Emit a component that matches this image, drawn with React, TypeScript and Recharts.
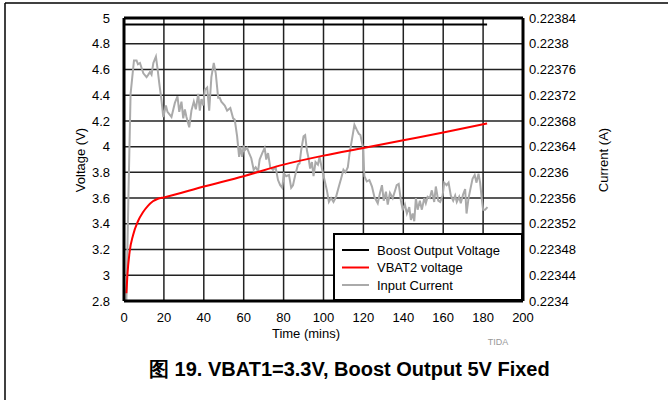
import React from 'react';
import { LineChart, Line, XAxis, YAxis, CartesianGrid, ReferenceLine } from 'recharts';

const FONT = '"Liberation Sans", Arial, Helvetica, sans-serif';

// Time axis ticks (mins)
const timeTicks = [0, 20, 40, 60, 80, 100, 120, 140, 160, 180, 200];
// Left axis ticks (V)
const voltTicks = [2.8, 3, 3.2, 3.4, 3.6, 3.8, 4, 4.2, 4.4, 4.6, 4.8, 5];
// Right axis ticks (A)
const currentTicks = [0.2234, 0.22344, 0.22348, 0.22352, 0.22356, 0.2236, 0.22364, 0.22368, 0.22372, 0.22376, 0.2238, 0.22384];

// Boost Output Voltage
const boostTimes = [0, 182];
const boostVolts = [4.95, 4.95];

// VBAT2 voltage
const vbatTimes = [1.2, 1.7, 2.8, 4.5, 7, 9.5, 12, 14.5, 17, 20, 40, 60, 80, 100, 120, 140, 160, 182];
const vbatVolts = [2.86, 3.0, 3.18, 3.31, 3.42, 3.49, 3.54, 3.575, 3.595, 3.605, 3.69, 3.77, 3.86, 3.93, 3.99, 4.05, 4.11, 4.18];

// Input Current
const currTimes = [
  1.2, 2.2, 3.3, 5, 6.3, 7, 8, 9.7, 11.3, 12.2,
  13, 13.8, 14.7, 16, 16.7, 17.7, 18.8, 19.7, 21, 21.8,
  22.8, 23.8, 25.5, 26.8, 27.7, 28.8, 29.7, 30.5, 31.3, 32.7,
  33.8, 35, 36, 37.2, 38, 38.8, 39.7, 40.5, 41.7, 42.7,
  43.8, 45, 46, 47.2, 48, 48.8, 50.5, 51.7, 53.3, 54.7,
  55.5, 56.7, 57.7, 58.3, 59.2, 60, 60.5, 61.7, 62.7, 63.8,
  65, 66, 67.2, 68, 69.3, 70.5, 71.3, 72.2, 73.3, 74.7,
  76, 77.2, 78.3, 79.3, 80.2, 81.3, 82.7, 83.8, 84.7, 86,
  87.2, 88, 88.8, 90, 90.8, 91.7, 92.5, 93.3, 94.2, 95,
  96, 97.2, 98, 99.2, 100.5, 101.7, 102.7, 103.8, 105, 106.3,
  107.7, 108.8, 110, 111, 112.2, 113, 114.2, 115.5, 116.7, 117.7,
  118.5, 119.7, 120.5, 121.7, 123, 124.3, 125.5, 127.2, 128.3, 129.3,
  130.2, 131.3, 132.2, 133.3, 134.7, 135.5, 136.7, 137.7, 138.8, 139.7,
  140.8, 141.8, 143, 143.8, 144.7, 145.5, 146.3, 147.2, 148.3, 149.3,
  150.5, 151.3, 152.2, 153.3, 154.3, 155.5, 156.3, 157.5, 158.5, 159.7,
  160.5, 161.7, 162.7, 163.8, 165, 166, 166.8, 168, 168.8, 170,
  171, 171.7, 172.7, 173.5, 174.7, 175.8, 176.7, 177.7, 178.5, 179.3,
  180, 181, 182.2,
];
const currAmps = [
  0.2234, 0.22356, 0.223722, 0.223774, 0.223774, 0.223768, 0.22377, 0.223754, 0.223748, 0.223752,
  0.223756, 0.223752, 0.22377, 0.22378, 0.223764, 0.223738, 0.223712, 0.223686, 0.223704, 0.223694,
  0.22369, 0.223686, 0.223708, 0.223718, 0.223694, 0.22371, 0.223684, 0.223698, 0.223686, 0.22367,
  0.223696, 0.22371, 0.223698, 0.223722, 0.223696, 0.223714, 0.223704, 0.223728, 0.223732, 0.223696,
  0.223748, 0.22377, 0.223754, 0.223716, 0.223716, 0.22371, 0.223704, 0.223696, 0.2237, 0.223684,
  0.223682, 0.223656, 0.223624, 0.22364, 0.223624, 0.223642, 0.223634, 0.223638, 0.22363, 0.223622,
  0.223604, 0.223608, 0.223602, 0.22362, 0.22363, 0.223638, 0.22362, 0.22363, 0.223608, 0.223604,
  0.223608, 0.223588, 0.22358, 0.223576, 0.223598, 0.223594, 0.223596, 0.223576, 0.22358, 0.223598,
  0.223612, 0.223614, 0.223634, 0.223656, 0.223658, 0.223634, 0.223622, 0.223606, 0.223616, 0.223594,
  0.223616, 0.223612, 0.223624, 0.223606, 0.223588, 0.223572, 0.223554, 0.22356, 0.223554, 0.223562,
  0.223578, 0.22359, 0.223604, 0.2236, 0.223608, 0.223628, 0.22365, 0.223674, 0.223666, 0.22366,
  0.223658, 0.22364, 0.223594, 0.223586, 0.223588, 0.223578, 0.223562, 0.223552, 0.223568, 0.22358,
  0.223556, 0.22357, 0.22355, 0.223568, 0.22356, 0.223568, 0.22358, 0.223582, 0.223556, 0.223542,
  0.22355, 0.223536, 0.223546, 0.223526, 0.223536, 0.223524, 0.22356, 0.223542, 0.223556, 0.223542,
  0.22356, 0.223552, 0.223562, 0.22356, 0.223572, 0.223554, 0.223578, 0.223556, 0.223554, 0.223564,
  0.223584, 0.22358, 0.223584, 0.223564, 0.223556, 0.223564, 0.223554, 0.223562, 0.223552, 0.223566,
  0.223574, 0.223536, 0.22356, 0.223572, 0.22359, 0.223596, 0.223584, 0.223598, 0.223584, 0.22356,
  0.223542, 0.223542, 0.223546,
];

const legendItems = [
  { label: 'Boost Output Voltage', color: '#000000' },
  { label: 'VBAT2 voltage', color: '#ff0000' },
  { label: 'Input Current', color: '#aaaaaa' },
];

const boostData = boostTimes.map((t, i) => ({ t, v: boostVolts[i] }));
const vbatData = vbatTimes.map((t, i) => ({ t, v: vbatVolts[i] }));
const currData = currTimes.map((t, i) => ({ t, a: currAmps[i] }));

const tickStyle = { fontSize: 13, fill: '#000', fontFamily: FONT };

export default function App() {
  return (
    <div style={{ position: 'absolute', left: 0, top: 0, width: 668, height: 400, background: '#fff', fontFamily: FONT }}>
      <LineChart
        width={668}
        height={400}
        margin={{ top: 18, right: 65, bottom: 69, left: 64 }}
      >
        <CartesianGrid yAxisId="left" stroke="#222" strokeWidth={1.5} />
        <XAxis
          type="number"
          dataKey="t"
          domain={[0, 200]}
          ticks={timeTicks}
          allowDataOverflow
          height={30}
          tickSize={0}
          tickMargin={12}
          tick={tickStyle}
          axisLine={{ stroke: '#000', strokeWidth: 3 }}
        />
        <YAxis
          yAxisId="left"
          orientation="left"
          type="number"
          domain={[2.8, 5]}
          ticks={voltTicks}
          allowDataOverflow
          width={60}
          tickSize={0}
          tickMargin={14}
          tick={tickStyle}
          tickFormatter={(v: number) => String(+v.toFixed(1))}
          axisLine={{ stroke: '#000', strokeWidth: 3 }}
        />
        <YAxis
          yAxisId="right"
          orientation="right"
          type="number"
          domain={[0.2234, 0.22384]}
          ticks={currentTicks}
          allowDataOverflow
          width={80}
          tickSize={0}
          tickMargin={6}
          tick={{ ...tickStyle, textAnchor: 'start' }}
          tickFormatter={(v: number) => String(+v.toFixed(5))}
          axisLine={{ stroke: '#000', strokeWidth: 3 }}
        />
        <ReferenceLine yAxisId="left" y={5} stroke="#000" strokeWidth={3} />
        <Line
          yAxisId="right"
          data={currData}
          dataKey="a"
          type="linear"
          stroke="#aaaaaa"
          strokeWidth={2}
          dot={false}
          isAnimationActive={false}
        />
        <Line
          yAxisId="left"
          data={vbatData}
          dataKey="v"
          type="monotone"
          stroke="#ff0000"
          strokeWidth={2}
          dot={false}
          isAnimationActive={false}
        />
        <Line
          yAxisId="left"
          data={boostData}
          dataKey="v"
          type="linear"
          stroke="#000000"
          strokeWidth={2}
          dot={false}
          isAnimationActive={false}
        />
      </LineChart>
      <svg
        width={668}
        height={400}
        style={{ position: 'absolute', left: 0, top: 0, pointerEvents: 'none' }}
      >
        <line x1={5} y1={3} x2={668} y2={3} stroke="#000" strokeWidth={1.5} />
        <line x1={5} y1={3} x2={5} y2={400} stroke="#000" strokeWidth={1.5} />
        <text x={80} y={160} transform="rotate(-90 80 160)" textAnchor="middle" dominantBaseline="central" fontSize={13} fontFamily={FONT} fill="#000">Voltage (V)</text>
        <text x={603} y={160} transform="rotate(-90 603 160)" textAnchor="middle" dominantBaseline="central" fontSize={13} fontFamily={FONT} fill="#000">Current (A)</text>
        <text x={306} y={333} textAnchor="middle" dominantBaseline="central" fontSize={13} fontFamily={FONT} fill="#000">Time (mins)</text>
        <text x={498} y={342} textAnchor="middle" dominantBaseline="central" fontSize={9} fontFamily={FONT} fill="#999">TIDA</text>
        <text x={149} y={376} fontSize={20} fontWeight="bold" fontFamily={FONT} fill="#000">图 19. VBAT1=3.3V, Boost Output 5V Fixed</text>
        <rect x={334} y={234} width={188} height={66} fill="#fff" stroke="#000" strokeWidth={2} />
        {legendItems.map((it, i) => (
          <g key={it.label}>
            <line x1={342} y1={250 + i * 17.5} x2={369} y2={250 + i * 17.5} stroke={it.color} strokeWidth={2} />
            <text x={377} y={250 + i * 17.5} dominantBaseline="central" fontSize={13} fontFamily={FONT} fill="#000">{it.label}</text>
          </g>
        ))}
      </svg>
    </div>
  );
}
